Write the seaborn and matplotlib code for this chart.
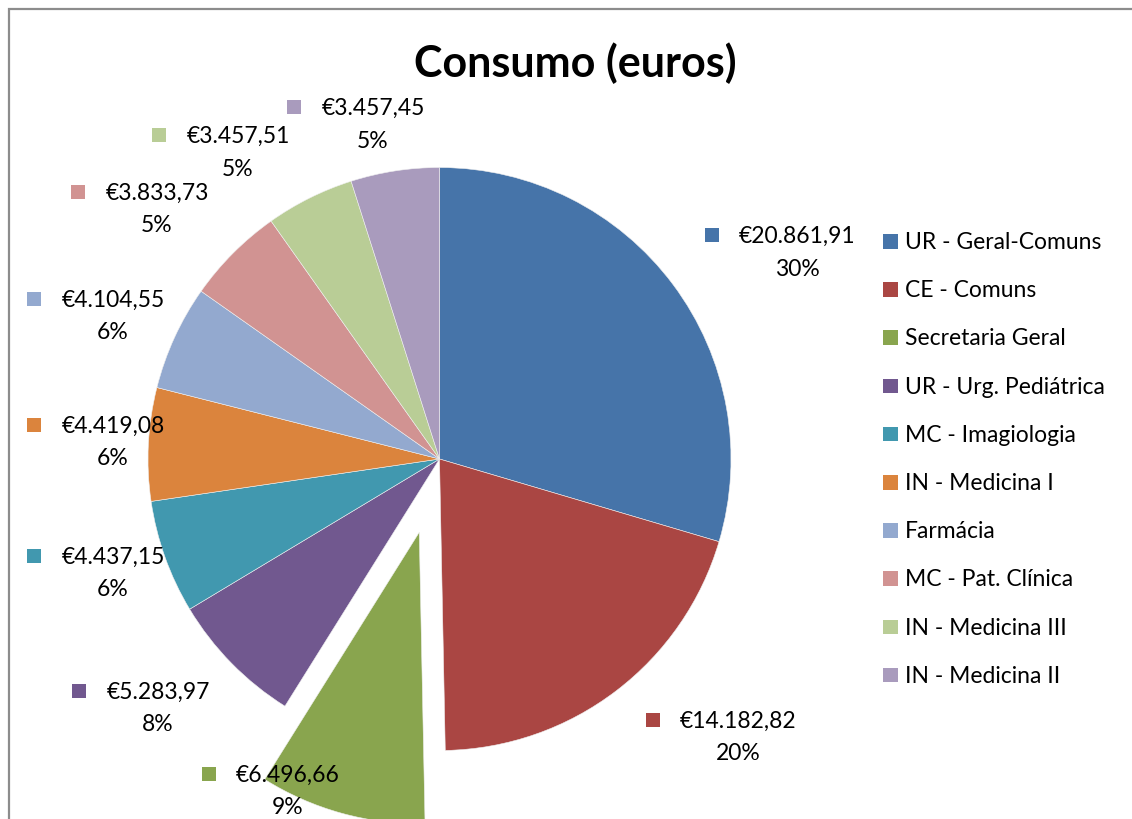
import matplotlib
matplotlib.use("Agg")
import matplotlib.pyplot as plt
from matplotlib.patches import Rectangle
import seaborn as sns

# ---------------- data ----------------
categories = ["UR - Geral-Comuns", "CE - Comuns", "Secretaria Geral",
              "UR - Urg. Pediátrica", "MC - Imagiologia", "IN - Medicina I",
              "Farmácia", "MC - Pat. Clínica", "IN - Medicina III",
              "IN - Medicina II"]
values = [20861.91, 14182.82, 6496.66, 5283.97, 4437.15, 4419.08,
          4104.55, 3833.73, 3457.51, 3457.45]
pct_labels = [30, 20, 9, 8, 6, 6, 6, 5, 5, 5]
exploded = [0, 0, 1, 0, 0, 0, 0, 0, 0, 0]
title = "Consumo (euros)"

colors = sns.color_palette(["#4674A9", "#AA4643", "#89A54E", "#71588F",
                            "#4198AF", "#DB843D", "#93A9CF", "#D19392",
                            "#B9CD96", "#A99BBD"])

# ---------------- layout (pixels) ----------------
W, H = 1132, 820
def Y(py):
    return H - py

pie_center = (439.5, Y(460))
pie_radius = 291.5
explode_dist = 76
# value-label anchors: (text centre x, first line y)
label_anchor = [(797, 236), (738, 721), (288, 775), (158, 692), (113, 557),
                (113, 426), (113, 300), (157, 193), (238, 136), (373, 108)]

sns.set_theme(style="white")
plt.rcParams["font.family"] = ["Lato", "DejaVu Sans"]

fig = plt.figure(figsize=(W / 100, H / 100), dpi=100)
ax = fig.add_axes([0, 0, 1, 1])

ax.pie(values, colors=colors, startangle=90, counterclock=False,
       radius=pie_radius, center=pie_center,
       explode=[e * explode_dist for e in exploded],
       wedgeprops=dict(linewidth=0.4, edgecolor="#f0f0f0"))
ax.set_xlim(0, W)
ax.set_ylim(0, H)
ax.set_aspect("auto")
ax.axis("off")

# chart border
ax.plot([8.5, 8.5, W + 5], [Y(H + 5), Y(9.5), Y(9.5)], color="#8c8c8c",
        lw=1.6, solid_joinstyle="miter", clip_on=False)

# title
ax.text(575, Y(63), title, ha="center", va="center", fontsize=31,
        fontweight="bold", color="black")

fig.canvas.draw()
renderer = fig.canvas.get_renderer()

def fmt_eur(v):
    s = f"{v:,.2f}".replace(",", "X").replace(".", ",").replace("X", ".")
    return "€" + s

fs = 16.5
for i, v in enumerate(values):
    cx, py = label_anchor[i]
    t = ax.text(cx, Y(py), fmt_eur(v), ha="center", va="center",
                fontsize=fs, color="black")
    ax.text(cx, Y(py + 33), f"{pct_labels[i]}%", ha="center", va="center",
            fontsize=fs, color="black")
    bb = t.get_window_extent(renderer=renderer)
    left = bb.x0  # pixel == data units
    ax.add_patch(Rectangle((left - 34, Y(py) - 7), 14, 14,
                           facecolor=colors[i], edgecolor="none"))

# legend (manual)
for i, name in enumerate(categories):
    py = 242.5 + i * 48.2
    ax.add_patch(Rectangle((883, Y(py) - 7), 14.5, 14.5,
                           facecolor=colors[i], edgecolor="none"))
    ax.text(905, Y(py), name, ha="left", va="center", fontsize=fs,
            color="black")

fig.savefig("out.png", dpi=100)
